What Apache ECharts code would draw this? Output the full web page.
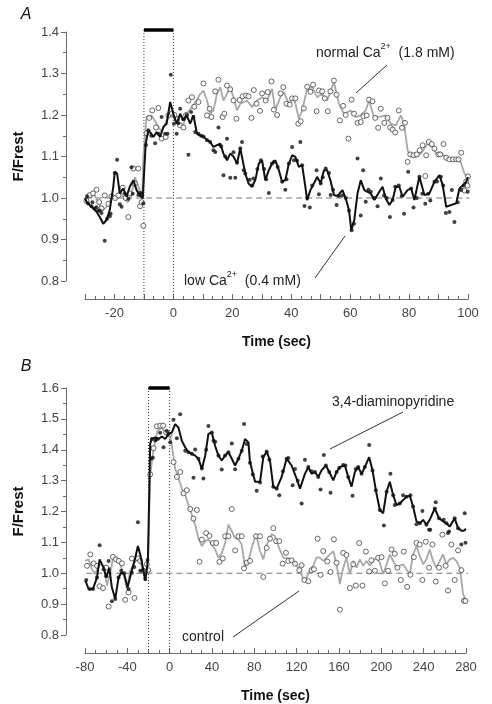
<!DOCTYPE html>
<html><head><meta charset="utf-8">
<script src="https://cdn.jsdelivr.net/npm/echarts@6/dist/echarts.min.js"></script>
<style>html,body{margin:0;padding:0;background:#fff}#c{width:492px;height:704px}</style>
</head><body><div id="c"></div>
<script>
// ---------- Panel A : normal Ca2+ (open circles, grey line) ----------
var normalCaPts = [[-29.5,0.993],[-28.4,1.007],[-27.3,1.011],[-26.1,1.02],[-25.2,0.99],[-24.4,0.975],[-23.3,1.006],[-22.1,0.986],[-21,1.004],[-19.8,1.0],[-18.7,1.006],[-17.2,1.025],[-16.2,1.0],[-15.3,0.954],[-14.8,1.011],[-13.6,1.071],[-13.1,1.035],[-11.9,1.071],[-11.3,0.98],[-10.8,0.99],[-10.2,0.933],
[-9.1,1.156],[-8.2,1.193],[-7.2,1.211],[-5.9,1.17],[-5.1,1.217],[-4.0,1.143],[-2.6,1.147],[-1.7,1.199],[-0.5,1.203],[0.4,1.2],[1.3,1.19],[2.3,1.175],[3.4,1.17],[4.3,1.2],[5.1,1.235],[6.3,1.243],[7.1,1.22],[8.5,1.231],[10.2,1.276],[11.4,1.199],[12.3,1.215],[12.9,1.195],[14.2,1.257],[15.3,1.285],[16.7,1.195],[17.3,1.203],[18.2,1.271],[19.3,1.262],[20.4,1.235],[21.4,1.191],[22.5,1.236],[23.5,1.245],[24.6,1.247],[25.5,1.245],[26.5,1.193],[27.3,1.26],[28.2,1.227],[29.4,1.21],[30.1,1.252],[31.3,1.235],[32,1.255],[33.3,1.281],[34.1,1.213],[35.2,1.2],[36.4,1.252],[37.3,1.267],[38.4,1.227],[39.5,1.225],[40.3,1.24],[41.4,1.24],[42.4,1.179],[43.2,1.185],[44.3,1.216],[45.4,1.268],[46.5,1.256],[47.4,1.273],[48.6,1.209],[49.4,1.259],[50.5,1.257],[51.4,1.24],[52.4,1.209],[53.3,1.257],[54.5,1.283],[55.4,1.249],[56.5,1.187],[57.6,1.222],[58.5,1.2],[59.4,1.143],[60.5,1.237],[61.3,1.203],[62.5,1.181],[63.6,1.183],[64.5,1.197],[65.6,1.199],[66.4,1.237],[67.6,1.233],[68.5,1.193],[69.5,1.169],[70.4,1.215],[71.6,1.181],[72.7,1.193],[73.6,1.17],[74.4,1.165],[75.3,1.158],[76.5,1.211],[77.6,1.169],[78.6,1.181],[79.5,1.087],[80.4,1.105],[81.5,1.103],[82.6,1.105],[83.6,1.115],[84.6,1.127],[85.5,1.053],[85.8,1.103],[86.7,1.135],[87.7,1.13],[88.6,1.119],[90,1.105],[90.6,1.105],[91.7,1.13],[92.6,1.097],[93.7,1.093],[94.9,1.093],[96,1.093],[96.8,1.093],[97.7,1.109],[98.8,1.018],[99.4,1.04],[99.8,1.03],[100,1.052]];
var normalCaLine = [[-30,1.0],[-28.5,1.0],[-27,1.01],[-25.5,0.99],[-24,0.97],[-22.5,0.98],[-21,1.0],[-19.5,1.0],[-18,1.02],[-17,1.0],[-15.5,0.99],[-14.5,1.0],[-13,1.05],[-12,1.03],[-10.6,1.0],[-10.2,1.1],[-9.1,1.195],[-7.4,1.199],[-5.7,1.179],[-4,1.159],[-2.3,1.187],[-1.1,1.203],[0.6,1.187],[2.3,1.179],[3.4,1.175],[4.5,1.203],[6.3,1.219],[7.9,1.235],[9.1,1.251],[10.2,1.259],[11.4,1.235],[12.5,1.203],[13.6,1.211],[14.8,1.251],[15.9,1.267],[17,1.235],[18.2,1.251],[19.3,1.267],[20.4,1.243],[21.6,1.211],[22.7,1.227],[25,1.235],[26.7,1.219],[28.4,1.235],[30.1,1.243],[31.8,1.235],[33.5,1.263],[34.6,1.211],[36.3,1.243],[37.5,1.255],[39.2,1.227],[40.9,1.243],[42.6,1.191],[43.7,1.211],[45.4,1.263],[47.1,1.267],[48.8,1.243],[50.5,1.251],[52.2,1.235],[53.4,1.259],[54.5,1.279],[56.2,1.227],[57.9,1.203],[60.2,1.211],[61.9,1.195],[63.6,1.199],[65.3,1.211],[66.4,1.235],[68.1,1.195],[70.4,1.196],[72.1,1.199],[73.8,1.179],[75.5,1.175],[77.2,1.199],[78.3,1.179],[79.5,1.115],[80.6,1.1],[82.3,1.099],[84,1.107],[86.3,1.131],[88,1.123],[89.1,1.107],[90.8,1.107],[92.5,1.099],[93.7,1.095],[95.4,1.091],[97.1,1.095],[98.8,1.059],[100,1.047]];
// ---------- Panel A : low Ca2+ (filled dots, black line) ----------
var lowCaPts = [[-29.3,1.004],[-29,0.987],[-27.8,0.98],[-27.5,0.99],[-26.7,0.975],[-26.1,0.978],[-25.5,0.969],[-25,0.97],[-24.4,0.964],[-23.3,0.897],[-22.5,0.95],[-21.6,0.956],[-21.3,0.962],[-19.9,1.06],[-19.1,1.092],[-18.2,0.985],[-17.6,0.979],[-16.5,1.011],[-15.3,0.998],[-14.2,1.074],[-13.8,1.01],[-11.9,1.007],[-11.3,1.012],[-10.8,1.011],[-10.2,0.987],
[-9.3,1.128],[-8.5,1.163],[-7.5,1.15],[-6.2,1.132],[-5.1,1.155],[-4,1.195],[-2.8,1.155],[-2,1.155],[-0.9,1.297],[0.2,1.179],[1.1,1.155],[1.7,1.18],[2.3,1.215],[3.4,1.19],[4.5,1.2],[5.1,1.104],[6.0,1.207],[6.8,1.195],[7.4,1.159],[8.5,1.155],[9.4,1.15],[10.2,1.148],[11.4,1.139],[12.5,1.135],[13.6,1.115],[14.2,1.111],[15.3,1.17],[16.2,1.125],[17,1.055],[17.6,1.1],[18.2,1.143],[19.3,1.049],[20.4,1.11],[21,1.049],[21.6,1.085],[22.7,1.12],[23.3,1.135],[23.9,1.067],[24.4,1.059],[25.9,1.044],[26.7,1.03],[27.2,1.047],[28.5,1.07],[29.7,1.091],[30.8,1.07],[31.5,1.045],[32.4,1.012],[33.5,1.083],[34.1,1.087],[35.4,1.075],[36.9,1.039],[38.0,1.02],[38.4,1.045],[39.2,1.083],[40.3,1.123],[40.9,1.091],[42,1.09],[43.1,1.135],[43.7,1.079],[44.5,0.981],[45.4,1.0],[46.3,0.977],[47.1,1.03],[48.6,1.067],[49.4,1.009],[50,1.035],[50.7,1.05],[51.7,1.071],[52.8,1.06],[53.4,1.007],[54.2,1.02],[55.4,0.983],[56.2,1.005],[57.3,1.006],[58.5,1.0],[59.6,0.97],[60.5,0.922],[61.3,0.938],[62.5,1.095],[63.6,0.958],[64.4,1.067],[65.3,0.991],[66.2,1.02],[67,1.015],[68.2,1.0],[69.3,0.98],[70.4,1.047],[71.5,1.006],[72.4,1.0],[73.5,0.954],[74.4,0.995],[75.3,1.027],[76.5,1.03],[77.5,1.005],[78.3,0.962],[79.7,1.063],[80.7,1.023],[81.5,0.977],[82.6,1.0],[83.5,1.051],[84.5,1.01],[85.5,0.986],[86.5,1.01],[87.2,0.994],[88.6,1.039],[89.5,1.04],[90.8,1.051],[91.6,1.03],[92.5,0.964],[93.7,0.966],[94.5,1.019],[95.4,0.942],[96.5,0.99],[97.7,1.019],[98.5,1.03],[99.9,1.015]];
var lowCaLine = [[-30,1.0],[-29.5,0.991],[-27.8,0.979],[-26.1,0.967],[-25,0.954],[-23.8,0.938],[-22.7,0.947],[-21.6,0.971],[-20.4,1.027],[-19.9,1.063],[-19.1,1.059],[-18.2,1.011],[-17,1.023],[-15.9,1.003],[-14.8,1.027],[-13.6,1.043],[-12.5,1.019],[-11.4,1.007],[-10.4,0.999],[-9.4,1.131],[-8.5,1.163],[-7.5,1.155],[-6.8,1.147],[-5.7,1.159],[-4.5,1.147],[-3.4,1.171],[-2.3,1.179],[-1.1,1.231],[0,1.203],[1.1,1.179],[2.3,1.203],[3.4,1.187],[4.5,1.199],[5.7,1.179],[6.8,1.199],[8,1.155],[9.1,1.151],[10.2,1.147],[12.5,1.135],[13.6,1.123],[15.9,1.131],[17,1.107],[18.2,1.091],[19.3,1.107],[20.4,1.1],[21.6,1.083],[22.7,1.12],[24.4,1.059],[25.5,1.035],[26.7,1.027],[27.8,1.043],[29,1.083],[30.1,1.091],[31.2,1.043],[32.4,1.067],[33.5,1.083],[34.6,1.091],[35.8,1.067],[36.9,1.039],[38,1.043],[39.2,1.083],[40.3,1.103],[41.4,1.099],[42.6,1.075],[43.7,1.079],[44.8,1.027],[45.4,0.995],[46.5,1.019],[47.7,1.035],[48.8,1.051],[50,1.035],[51.1,1.067],[52.2,1.067],[53.4,1.04],[54.5,1.007],[55.7,1.005],[57.4,1.019],[58.5,0.999],[59.6,0.971],[60.4,0.922],[61.4,0.947],[62.5,1.011],[63.6,1.043],[64.8,1.019],[65.9,1.015],[67,1.011],[68.2,0.995],[69.9,1.015],[71,1.027],[72.1,0.999],[73.3,0.983],[74.4,0.995],[75.5,1.027],[76.7,1.027],[77.8,1.003],[79.5,1.019],[80.7,1.023],[81.8,0.995],[83.5,1.051],[85.2,1.007],[86.9,1.011],[88.6,1.039],[90.3,1.055],[91.4,1.031],[92.6,0.979],[94.3,0.983],[96,0.987],[97.1,1.023],[98.3,1.031],[99.4,1.039],[100,1.05]];
// ---------- Panel B : control (open circles, grey line) ----------
var controlPts = [[-78.1,1.024],[-75,1.061],[-71.8,1.032],[-68.7,1.024],[-66.2,0.958],[-63,0.952],[-59.9,1.018],[-57.7,0.892],[-53.6,1.053],[-50.8,1.045],[-48.2,1.04],[-45.1,1.032],[-42,0.914],[-38.8,0.938],[-35.7,1.048],[-33.3,0.92],[-30,1.048],[-27.8,1.04],[-24.7,1.008],[-21.5,1.029],[-20.2,1.01],
[-18.4,1.32],[-15.2,1.405],[-12.1,1.476],[-8.9,1.478],[-6.2,1.478],[-3.3,1.456],[-0.1,1.449],[3.7,1.36],[6.8,1.312],[10,1.328],[13.1,1.259],[16.2,1.269],[19.4,1.208],[22.5,1.177],[25.7,1.205],[28.2,1.037],[30.4,1.109],[34.5,1.13],[37.6,1.121],[40.8,1.098],[43.9,1.098],[47.1,1.037],[50.2,1.048],[52.4,1.12],[55.5,1.12],[58.7,1.208],[61.8,1.074],[65,1.12],[68.1,1.12],[70.3,1.016],[72.8,1.034],[75.9,1.04],[81.6,1.12],[85.4,1.12],[88.5,0.988],[91.7,1.082],[94.8,1.112],[97.9,1.146],[100.5,1.104],[103.6,1.104],[106.8,1.031],[109.9,1.066],[112.1,1.04],[115.2,1.042],[118.4,1.031],[122.5,1.01],[124.7,1.026],[127.2,0.978],[131,0.974],[134.1,1.01],[136.3,1.013],[139.8,1.112],[142.6,0.995],[145.1,1.072],[148.9,1.038],[152,1.004],[155.2,1.11],[157.7,1.034],[160.8,0.882],[164,1.066],[167.1,1.059],[170.3,0.952],[173.4,1.029],[175.9,0.96],[179.1,1.098],[182.2,0.96],[185.4,1.07],[188.5,1.006],[190.7,1.042],[193.9,1.008],[197,1.05],[200.2,1.052],[203.3,0.967],[206.4,1.008],[209.6,1.077],[212.7,1.063],[215.2,1.018],[218.4,0.978],[221.2,1.07],[224.4,0.956],[227.5,0.995],[230.7,1.052],[233.2,1.098],[236.3,1.093],[238.8,0.978],[242,1.102],[245.1,1.018],[248.3,1.093],[251.4,0.973],[254.5,1.018],[257.7,1.125],[260.8,1.024],[263,0.944],[266.2,1.093],[269.3,0.978],[272.5,1.074],[275.6,1.01],[278,0.911],[279.5,0.91]];
var controlLine = [[-79.7,1.04],[-76.6,1.045],[-73.4,1.013],[-70.3,0.997],[-68,1.02],[-65.6,1.029],[-62.4,1.024],[-59.3,0.96],[-56.1,1.002],[-53,1.056],[-49.8,1.05],[-46.7,1.029],[-42.9,0.986],[-40.4,0.949],[-37.3,1.008],[-34.1,1.029],[-31,1.045],[-27.8,1.04],[-24,0.992],[-21.5,1.018],[-20.3,1.05],[-18.4,1.317],[-15.2,1.403],[-11.4,1.462],[-7.4,1.472],[-3.3,1.451],[-0.1,1.451],[2.1,1.414],[5.2,1.339],[8.4,1.307],[11.5,1.275],[14.7,1.253],[17.8,1.221],[21,1.189],[24.1,1.157],[27.2,1.114],[30.4,1.088],[33.5,1.104],[36.7,1.109],[39.8,1.093],[43,1.077],[46.1,1.05],[49.3,1.066],[52.4,1.098],[55.5,1.157],[58.7,1.136],[61.8,1.114],[65,1.109],[68.1,1.093],[71.2,1.018],[74.4,1.04],[77.5,1.082],[81.6,1.127],[85.4,1.072],[88.5,1.045],[91.7,1.093],[96.4,1.127],[99.5,1.12],[102.7,1.088],[107.4,1.05],[112.1,1.048],[116.8,1.04],[120,1.024],[123.1,1.008],[126.3,0.981],[129.4,0.986],[132.5,1.01],[135.7,1.024],[138.8,1.052],[142,1.05],[145.1,1.04],[148.3,1.05],[151.4,1.061],[154.6,1.072],[157.7,1.029],[160.8,0.965],[164,1.018],[167.1,1.05],[170.3,0.997],[173.4,1.04],[176.6,1.018],[179.7,1.045],[182.9,1.024],[186,1.04],[189.1,1.024],[192.3,1.04],[195.4,1.05],[198.6,1.034],[201.7,0.997],[204.9,1.029],[208,1.061],[211.2,1.04],[214.3,1.018],[217.4,1.024],[220.6,1.029],[223.7,1.013],[226.9,0.997],[230,1.061],[233.2,1.088],[236.3,1.056],[239.5,1.029],[242.6,1.045],[245.7,1.077],[248.9,1.04],[252,1.018],[255.2,1.04],[258.3,1.061],[261.5,1.029],[264.6,1.045],[267.8,1.05],[270.9,1.04],[274.1,1.018],[277.2,0.933],[280,0.911]];
// ---------- Panel B : 3,4-diaminopyridine (filled dots, black line) ----------
var dapPts = [[-78.8,0.978],[-75.6,0.949],[-72.5,0.949],[-68.7,0.986],[-66.2,1.091],[-62.4,1.013],[-59.9,0.99],[-57.7,1.04],[-54.6,0.909],[-51.4,0.917],[-48.3,0.986],[-45.7,1.008],[-42.9,1.0],[-38.8,0.949],[-35.7,1.002],[-33.5,1.02],[-30,1.165],[-27.8,1.008],[-25.5,1.01],[-23.1,0.981],[-20.9,1.043],
[-17.7,1.371],[-16.8,1.435],[-15.9,1.374],[-13.6,1.43],[-12.7,1.435],[-11.4,1.435],[-9,1.455],[-5.8,1.408],[-2.7,1.461],[-1.1,1.451],[0.5,1.424],[3.6,1.497],[6.8,1.437],[9.9,1.515],[14.7,1.397],[17.8,1.392],[20.9,1.387],[22.5,1.309],[24.1,1.401],[27.2,1.371],[30.4,1.339],[31.9,1.307],[34.5,1.4],[36.6,1.477],[39.8,1.456],[41.4,1.429],[43,1.426],[46.1,1.381],[49.2,1.336],[52.4,1.381],[55.5,1.392],[58.7,1.42],[61.8,1.337],[65,1.371],[68.1,1.397],[70.3,1.483],[72.8,1.419],[75.9,1.358],[78.5,1.32],[82.2,1.267],[85.4,1.294],[87.9,1.378],[91.7,1.394],[94.2,1.368],[97.9,1.28],[101.1,1.274],[103.6,1.253],[107,1.33],[110.5,1.371],[112.1,1.373],[116.2,1.285],[118.4,1.338],[121,1.3],[124.7,1.226],[127.8,1.368],[131,1.344],[134.1,1.33],[137.3,1.328],[140.4,1.312],[142.6,1.271],[145.7,1.383],[147.6,1.349],[150.8,1.328],[152,1.261],[157.7,1.328],[160.2,1.341],[164,1.351],[166,1.349],[168.7,1.312],[172.8,1.251],[175.9,1.338],[178.1,1.344],[181.3,1.322],[184.4,1.344],[188.5,1.415],[191.7,1.333],[194.8,1.269],[198.6,1.205],[202.4,1.155],[205,1.264],[208.6,1.322],[211.2,1.253],[212.7,1.221],[217.4,1.226],[220.6,1.253],[223.7,1.248],[227.5,1.253],[230,1.216],[233.2,1.159],[236.3,1.162],[238.8,1.202],[242.6,1.157],[245.1,1.141],[246.2,1.141],[250.5,1.21],[251.4,1.23],[254.5,1.178],[258.9,1.173],[261.5,1.162],[263,1.13],[264,1.135],[269.3,1.178],[272.5,1.146],[275.6,1.093],[278.8,1.194],[279.5,1.099]];
var dapLine = [[-79.7,0.977],[-76.6,0.949],[-72.5,0.949],[-68.7,0.986],[-66.2,1.045],[-62.4,1.018],[-59.9,0.986],[-57.1,1.018],[-54.6,0.954],[-51.4,0.917],[-48.3,0.986],[-45.7,1.002],[-42.9,0.997],[-39.8,0.954],[-36.3,1.002],[-32.5,1.05],[-30,1.088],[-27.8,1.061],[-24.7,1.008],[-23.1,0.976],[-21.5,1.013],[-20.5,1.05],[-18.4,1.42],[-16.8,1.435],[-13.7,1.44],[-10.5,1.435],[-7.4,1.443],[-4.2,1.435],[-1.1,1.451],[2.1,1.456],[5.2,1.483],[8.3,1.472],[11.5,1.429],[14.6,1.408],[17.8,1.392],[20.9,1.387],[24.1,1.381],[27.2,1.371],[30.4,1.338],[33.5,1.38],[36.6,1.451],[39.8,1.456],[42.9,1.413],[46.1,1.381],[49.2,1.365],[52.4,1.381],[55.5,1.392],[58.7,1.371],[61.8,1.349],[65,1.371],[68.1,1.397],[71.2,1.435],[74.4,1.424],[75.9,1.36],[80.7,1.296],[85.4,1.296],[88.5,1.376],[91.7,1.394],[94.8,1.365],[97.9,1.28],[101.1,1.274],[105.8,1.312],[110.5,1.371],[115.2,1.349],[120,1.306],[123.1,1.274],[127.8,1.322],[131,1.344],[134.1,1.322],[137.3,1.328],[140.4,1.312],[143.5,1.333],[147.6,1.349],[150.8,1.328],[154.6,1.301],[157.7,1.328],[160.8,1.344],[165.6,1.349],[168.7,1.312],[171.8,1.28],[175,1.328],[178.1,1.344],[181.3,1.322],[184.4,1.344],[188.5,1.376],[191.7,1.333],[194.8,1.269],[198.6,1.205],[201.7,1.194],[204.9,1.264],[208,1.296],[211.2,1.253],[214.3,1.221],[217.4,1.226],[220.6,1.237],[223.7,1.248],[226.9,1.251],[230,1.216],[233.2,1.168],[236.3,1.162],[239.5,1.173],[242.6,1.157],[245.7,1.173],[250.5,1.21],[254.5,1.178],[258.3,1.168],[261.5,1.162],[264.6,1.151],[269.3,1.178],[272.5,1.146],[275.6,1.138],[278,1.138],[280,1.144]];

// axis ranges / ticks
var xRangeA = [-30, 100], yRangeA = [0.8, 1.4];
var xRangeB = [-80, 280], yRangeB = [0.8, 1.6];
// stimulus periods and reference values
var stimA = [-10, 0], stimB = [-20, 0];
var barLevelA = 1.405, barLevelB = 1.6;
var baseline = 1.0;
// extents reaching the offset axes (in data units)
var dropA = 0.757, dropB = 0.740;
var baseStartA = -36.4, baseEndA = 100.5;
var baseStartB = -97.6, baseEndB = 285;

var FONT = '"Liberation Sans", Arial, sans-serif';
var AX = '#6b6b6b', TXT = '#444';

function yAxisCfg(r, gi) {
  return {gridIndex: gi, type: 'value', min: r[0], max: r[1], interval: 0.1, offset: 19,
    axisLine: {show: true, onZero: false, lineStyle: {color: AX, width: 1}},
    axisTick: {show: true, inside: false, length: 5, lineStyle: {color: AX}},
    minorTick: {show: true, splitNumber: 2, length: 3, lineStyle: {color: AX}},
    splitLine: {show: false},
    axisLabel: {color: TXT, fontSize: 13, fontFamily: FONT, margin: 7, formatter: function(v){return v.toFixed(1);}},
    name: 'F/Frest', nameLocation: 'middle', nameGap: 40,
    nameTextStyle: {fontSize: 15, fontWeight: 'bold', color: '#111', fontFamily: FONT}
  };
}
var opt = {
  animation: false,
  backgroundColor: '#fff',
  grid: [{left: 85, right: 24, top: 32, bottom: 423}, {left: 85, right: 26, top: 388, bottom: 66}],
  xAxis: [
    {gridIndex: 0, type: 'value', min: xRangeA[0], max: xRangeA[1], interval: 10, offset: 18,
     axisLine: {show: true, onZero: false, lineStyle: {color: AX}},
     axisTick: {show: true, inside: true, length: 5, lineStyle: {color: AX}},
     minorTick: {show: true, splitNumber: 3, length: 3, lineStyle: {color: AX}},
     splitLine: {show: false},
     axisLabel: {color: TXT, fontSize: 13, fontFamily: FONT, margin: 8, showMaxLabel: true,
       formatter: function(v){ return (Math.round(v) % 20 === 0) ? String(Math.round(v)) : ''; }},
     name: 'Time (sec)', nameLocation: 'middle', nameGap: 36,
     nameTextStyle: {fontSize: 14, fontWeight: 'bold', color: '#111', fontFamily: FONT}},
    {gridIndex: 1, type: 'value', min: xRangeB[0], max: xRangeB[1], interval: 40, offset: 18,
     axisLine: {show: true, onZero: false, lineStyle: {color: AX}},
     axisTick: {show: true, inside: true, length: 5, lineStyle: {color: AX}},
     minorTick: {show: true, splitNumber: 4, length: 3, lineStyle: {color: AX}},
     splitLine: {show: false},
     axisLabel: {color: TXT, fontSize: 13, fontFamily: FONT, margin: 8, showMaxLabel: true},
     name: 'Time (sec)', nameLocation: 'middle', nameGap: 36,
     nameTextStyle: {fontSize: 14, fontWeight: 'bold', color: '#111', fontFamily: FONT}}
  ],
  yAxis: [yAxisCfg(yRangeA, 0), yAxisCfg(yRangeB, 1)],
  graphic: [
    {type: 'text', x: 26, y: 15, style: {text: 'A', font: 'italic 16px ' + FONT, fill: '#111', align: 'center', verticalAlign: 'middle'}},
    {type: 'text', x: 26, y: 367, style: {text: 'B', font: 'italic 16px ' + FONT, fill: '#111', align: 'center', verticalAlign: 'middle'}},
    {type: 'text', x: 316, y: 51, style: {text: '{a|normal Ca}{s|2+}{a|  (1.8 mM)}', verticalAlign: 'middle',
      rich: {a: {fontSize: 14, fontFamily: FONT, fill: '#222', color: '#222', lineHeight: 18, verticalAlign: 'bottom'},
             s: {fontSize: 9, fontFamily: FONT, color: '#222', fill: '#222', lineHeight: 18, verticalAlign: 'top'}}}},
    {type: 'line', shape: {x1: 387, y1: 65, x2: 356, y2: 93}, style: {stroke: '#333', lineWidth: 1}},
    {type: 'text', x: 184, y: 279, style: {text: '{a|low Ca}{s|2+}{a|  (0.4 mM)}', verticalAlign: 'middle',
      rich: {a: {fontSize: 14, fontFamily: FONT, color: '#222', fill: '#222', lineHeight: 18, verticalAlign: 'bottom'},
             s: {fontSize: 9, fontFamily: FONT, color: '#222', fill: '#222', lineHeight: 18, verticalAlign: 'top'}}}},
    {type: 'line', shape: {x1: 315, y1: 278, x2: 345, y2: 236}, style: {stroke: '#333', lineWidth: 1}},
    {type: 'text', x: 332, y: 402, style: {text: '3,4-diaminopyridine', font: '14px ' + FONT, fill: '#222', verticalAlign: 'middle'}},
    {type: 'line', shape: {x1: 403, y1: 412, x2: 330, y2: 449}, style: {stroke: '#333', lineWidth: 1}},
    {type: 'text', x: 182, y: 637, style: {text: 'control', font: '14px ' + FONT, fill: '#222', verticalAlign: 'middle'}},
    {type: 'line', shape: {x1: 233, y1: 637, x2: 299, y2: 591}, style: {stroke: '#333', lineWidth: 1}}
  ],
  series: []
};
function refLine(gi, data, style) {
  return {type: 'line', xAxisIndex: gi, yAxisIndex: gi, data: data, symbol: 'none', clip: false, silent: true,
          lineStyle: style, z: 1};
}
var S = opt.series;
// reference lines panel A
S.push(refLine(0, [[baseStartA, baseline], [baseEndA, baseline]], {color: '#777', width: 1.2, type: [6, 4]}));
S.push(refLine(0, [[stimA[0], barLevelA], [stimA[0], dropA]], {color: '#333', width: 1, type: [1, 2]}));
S.push(refLine(0, [[stimA[1], barLevelA], [stimA[1], dropA]], {color: '#333', width: 1, type: [1, 2]}));
S.push(refLine(0, [[stimA[0], barLevelA], [stimA[1], barLevelA]], {color: '#000', width: 3.5}));
// reference lines panel B
S.push(refLine(1, [[baseStartB, baseline], [baseEndB, baseline]], {color: '#777', width: 1.2, type: [6, 4]}));
S.push(refLine(1, [[stimB[0], barLevelB], [stimB[0], dropB]], {color: '#333', width: 1, type: [1, 2]}));
S.push(refLine(1, [[stimB[1], barLevelB], [stimB[1], dropB]], {color: '#333', width: 1, type: [1, 2]}));
S.push(refLine(1, [[stimB[0], barLevelB], [stimB[1], barLevelB]], {color: '#000', width: 3.5}));

function greyLine(gi, d){ return {type:'line', xAxisIndex:gi, yAxisIndex:gi, data:d, symbol:'none', clip:false, lineStyle:{color:'#a8a8a8', width:1.8}, z:2}; }
function openPts(gi, d){ return {type:'scatter', xAxisIndex:gi, yAxisIndex:gi, data:d, symbol:'circle', symbolSize:5, clip:false, itemStyle:{color:'#fff', borderColor:'#444', borderWidth:1}, z:3}; }
function blackLine(gi, d){ return {type:'line', xAxisIndex:gi, yAxisIndex:gi, data:d, symbol:'none', clip:false, lineStyle:{color:'#111', width:2}, z:4}; }
function fillPts(gi, d){ return {type:'scatter', xAxisIndex:gi, yAxisIndex:gi, data:d, symbol:'circle', symbolSize:4, clip:false, itemStyle:{color:'#111'}, z:5}; }

S.push(greyLine(0, normalCaLine), openPts(0, normalCaPts), blackLine(0, lowCaLine), fillPts(0, lowCaPts));
S.push(greyLine(1, controlLine), openPts(1, controlPts), blackLine(1, dapLine), fillPts(1, dapPts));

var chart = echarts.init(document.getElementById('c'), null, {renderer: 'canvas'});
chart.setOption(opt);
</script></body></html>
